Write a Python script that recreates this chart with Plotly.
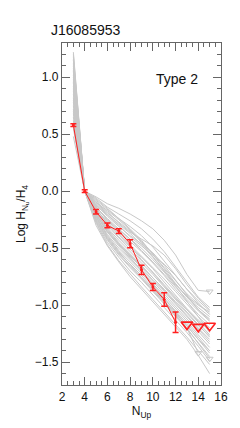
import plotly.graph_objects as go

# ---- data ----
n_up = [3, 4, 5, 6, 7, 8, 9, 10, 11, 12, 13, 14, 15]

# observed ratios (red)
obs_x = [3, 4, 5, 6, 7, 8, 9, 10, 11, 12]
obs_y = [0.58, 0.0, -0.18, -0.30, -0.35, -0.46, -0.69, -0.84, -0.95, -1.15]
obs_err = [0.012, 0.012, 0.02, 0.02, 0.02, 0.035, 0.04, 0.03, 0.06, 0.09]

# observed upper limits (red open triangles)
lim_x = [13, 14, 15]
lim_y = [-1.17, -1.19, -1.18]

# model curves (gray), values at n_up = 3..15 (None = not present)
models = [
    [0.68, 0, -0.05, -0.11, -0.15, -0.20, -0.26, -0.33, -0.43, -0.56, -0.73, -0.87, -0.88],
    [0.75, 0, -0.06, -0.14, -0.20, -0.26, -0.33, -0.42, -0.53, -0.66, -0.80, -0.93, -1.02],
    [0.82, 0, -0.08, -0.16, -0.24, -0.31, -0.39, -0.49, -0.61, -0.74, -0.86, -0.96, -1.05],
    [0.90, 0, -0.10, -0.19, -0.27, -0.35, -0.44, -0.55, -0.67, -0.79, -0.90, -0.99, -1.08],
    [0.60, 0, -0.12, -0.21, -0.29, -0.37, -0.47, -0.58, -0.70, -0.82, -0.93, -1.02, -1.10],
    [1.00, 0, -0.14, -0.24, -0.33, -0.42, -0.52, -0.62, -0.73, -0.84, -0.95, -1.05, -1.14],
    [0.95, 0, -0.13, -0.26, -0.35, -0.44, -0.53, -0.63, -0.74, -0.86, -0.97, -1.08, -1.17],
    [1.05, 0, -0.16, -0.27, -0.37, -0.47, -0.57, -0.67, -0.77, -0.88, -0.99, -1.10, -1.20],
    [0.72, 0, -0.15, -0.29, -0.40, -0.49, -0.58, -0.68, -0.80, -0.92, -1.03, -1.13, -1.22],
    [1.10, 0, -0.17, -0.30, -0.41, -0.51, -0.61, -0.71, -0.82, -0.93, -1.04, -1.15, -1.26],
    [0.85, 0, -0.18, -0.32, -0.43, -0.53, -0.63, -0.73, -0.84, -0.95, -1.06, -1.17, -1.28],
    [1.15, 0, -0.19, -0.33, -0.45, -0.55, -0.65, -0.76, -0.87, -0.98, -1.09, -1.20, -1.30],
    [0.78, 0, -0.20, -0.35, -0.47, -0.57, -0.67, -0.78, -0.88, -0.99, -1.10, -1.21, -1.32],
    [1.18, 0, -0.21, -0.36, -0.48, -0.59, -0.69, -0.79, -0.90, -1.01, -1.12, -1.23, -1.34],
    [0.92, 0, -0.22, -0.38, -0.50, -0.60, -0.70, -0.81, -0.92, -1.03, -1.14, -1.26, -1.37],
    [1.20, 0, -0.23, -0.39, -0.52, -0.62, -0.72, -0.83, -0.94, -1.05, -1.16, -1.28, -1.40],
    [0.98, 0, -0.24, -0.41, -0.54, -0.64, -0.74, -0.85, -0.96, -1.07, -1.18, -1.30, -1.42],
    [1.22, 0, -0.26, -0.43, -0.56, -0.67, -0.77, -0.88, -0.99, -1.10, -1.21, -1.33, -1.45],
    [1.08, 0, -0.27, -0.45, -0.58, -0.70, -0.80, -0.91, -1.02, -1.13, -1.24, -1.36, -1.49],
    [0.88, 0, -0.28, -0.47, -0.61, -0.73, -0.84, -0.95, -1.06, -1.17, -1.28, -1.40, -1.52],
    [1.12, 0, -0.30, -0.48, -0.62, -0.75, -0.86, -0.97, -1.08, -1.19, -1.30, -1.44, -1.60],
    [0.65, 0, -0.09, -0.18, -0.28, -0.36, -0.42, -0.48, -0.56, -0.68, -0.82, -0.94, -1.04],
    [0.70, 0, -0.11, -0.20, -0.30, -0.40, -0.48, -0.56, -0.64, -0.74, -0.86, -0.98, -1.08],
    [1.02, 0, -0.12, -0.22, -0.31, -0.39, -0.46, -0.54, -0.65, -0.78, -0.92, -1.04, -1.12],
    [0.55, 0, -0.16, -0.28, -0.38, -0.48, -0.60, -0.72, -0.83, -0.94, -1.04, -1.14, -1.22],
    [0.62, 0, -0.20, -0.36, -0.46, -0.56, -0.66, -0.76, -0.86, -0.97, -1.07, -1.18, -1.27],
    [0.80, 0, -0.14, -0.25, -0.34, -0.42, -0.50, -0.60, -0.71, -0.83, -0.96, -1.10, -1.24],
    [0.58, 0, -0.18, -0.34, -0.46, -0.58, -0.70, -0.82, -0.94, -1.06, -1.18, -1.30, -1.40],
    [1.06, 0, -0.22, -0.40, -0.53, -0.65, -0.76, -0.87, -0.98, -1.09, -1.20, -1.42, None],
    [0.48, 0, -0.07, -0.15, -0.24, -0.33, -0.43, -0.55, -0.68, -0.81, -0.93, -1.04, -1.13],
    [1.16, 0, -0.25, -0.42, -0.55, -0.66, -0.76, -0.86, -0.97, -1.08, -1.20, -1.33, -1.47],
    [0.96, 0, -0.10, -0.17, -0.25, -0.34, -0.45, -0.57, -0.70, -0.82, -0.92, -1.00, -1.06],
]

# model upper limits (gray open triangles)
mlim_x = [15, 14, 15]
mlim_y = [-0.88, -1.42, -1.47]

title_text = "J16085953"
type_text = "Type 2"
x_ticks = [2, 4, 6, 8, 10, 12, 14, 16]
y_ticks = [-1.5, -1.0, -0.5, 0.0, 0.5, 1.0]
y_ticklabels = ["\u22121.5", "\u22121.0", "\u22120.5", "0.0", "0.5", "1.0"]

GRAY = "#c8c8c8"
RED = "#ff2020"
AX = "#666666"
FONT = "Liberation Sans"

fig = go.Figure()
for m in models:
    fig.add_trace(go.Scatter(x=n_up, y=m, mode="lines",
                             line=dict(color=GRAY, width=1),
                             hoverinfo="skip", showlegend=False))
fig.add_trace(go.Scatter(x=mlim_x, y=mlim_y, mode="markers",
                         marker=dict(symbol="triangle-down-open", size=6,
                                     color=GRAY, line=dict(width=1, color=GRAY)),
                         showlegend=False))
fig.add_trace(go.Scatter(x=obs_x, y=obs_y, mode="lines+markers",
                         line=dict(color=RED, width=1),
                         marker=dict(size=3, color=RED),
                         error_y=dict(type="data", array=obs_err, color=RED,
                                      thickness=1.5, width=3),
                         showlegend=False))
fig.add_trace(go.Scatter(x=lim_x, y=lim_y, mode="markers",
                         marker=dict(symbol="triangle-down-open", size=10,
                                     color=RED, line=dict(width=1.6, color=RED)),
                         showlegend=False))

axis_common = dict(showline=True, linecolor=AX, linewidth=1.2, mirror="allticks",
                   ticks="inside", tickcolor=AX, showgrid=False, zeroline=False,
                   tickfont=dict(family=FONT, size=12, color="#111"))

fig.update_xaxes(range=[2, 16], tickvals=x_ticks, ticklen=8, tickwidth=1,
                 minor=dict(dtick=0.5, ticks="inside", ticklen=4, tickcolor=AX),
                 title=dict(text="N<sub>Up</sub>", font=dict(family=FONT, size=12, color="#111"),
                            standoff=4),
                 **axis_common)
fig.update_yaxes(range=[-1.7, 1.3], tickvals=y_ticks, ticktext=y_ticklabels,
                 ticklen=8, tickwidth=1,
                 minor=dict(dtick=0.1, tick0=0, ticks="inside", ticklen=4, tickcolor=AX),
                 title=dict(text="Log H<sub>N<sub>u</sub></sub>/H<sub>4</sub>",
                            font=dict(family=FONT, size=12, color="#111"), standoff=6),
                 **axis_common)

fig.add_annotation(x=0.0, y=1.0, xref="paper", yref="paper", xanchor="left",
                   yanchor="bottom", xshift=-13, yshift=3, showarrow=False,
                   text=title_text, font=dict(family=FONT, size=14, color="#111"))
fig.add_annotation(x=0.58, y=0.895, xref="paper", yref="paper", xanchor="left",
                   yanchor="middle", showarrow=False,
                   text=type_text, font=dict(family=FONT, size=14, color="#111"))

fig.update_layout(width=232, height=420,
                  margin=dict(l=52, r=12, t=35, b=43),
                  plot_bgcolor="white", paper_bgcolor="white",
                  showlegend=False)

fig.write_html("out.html")
